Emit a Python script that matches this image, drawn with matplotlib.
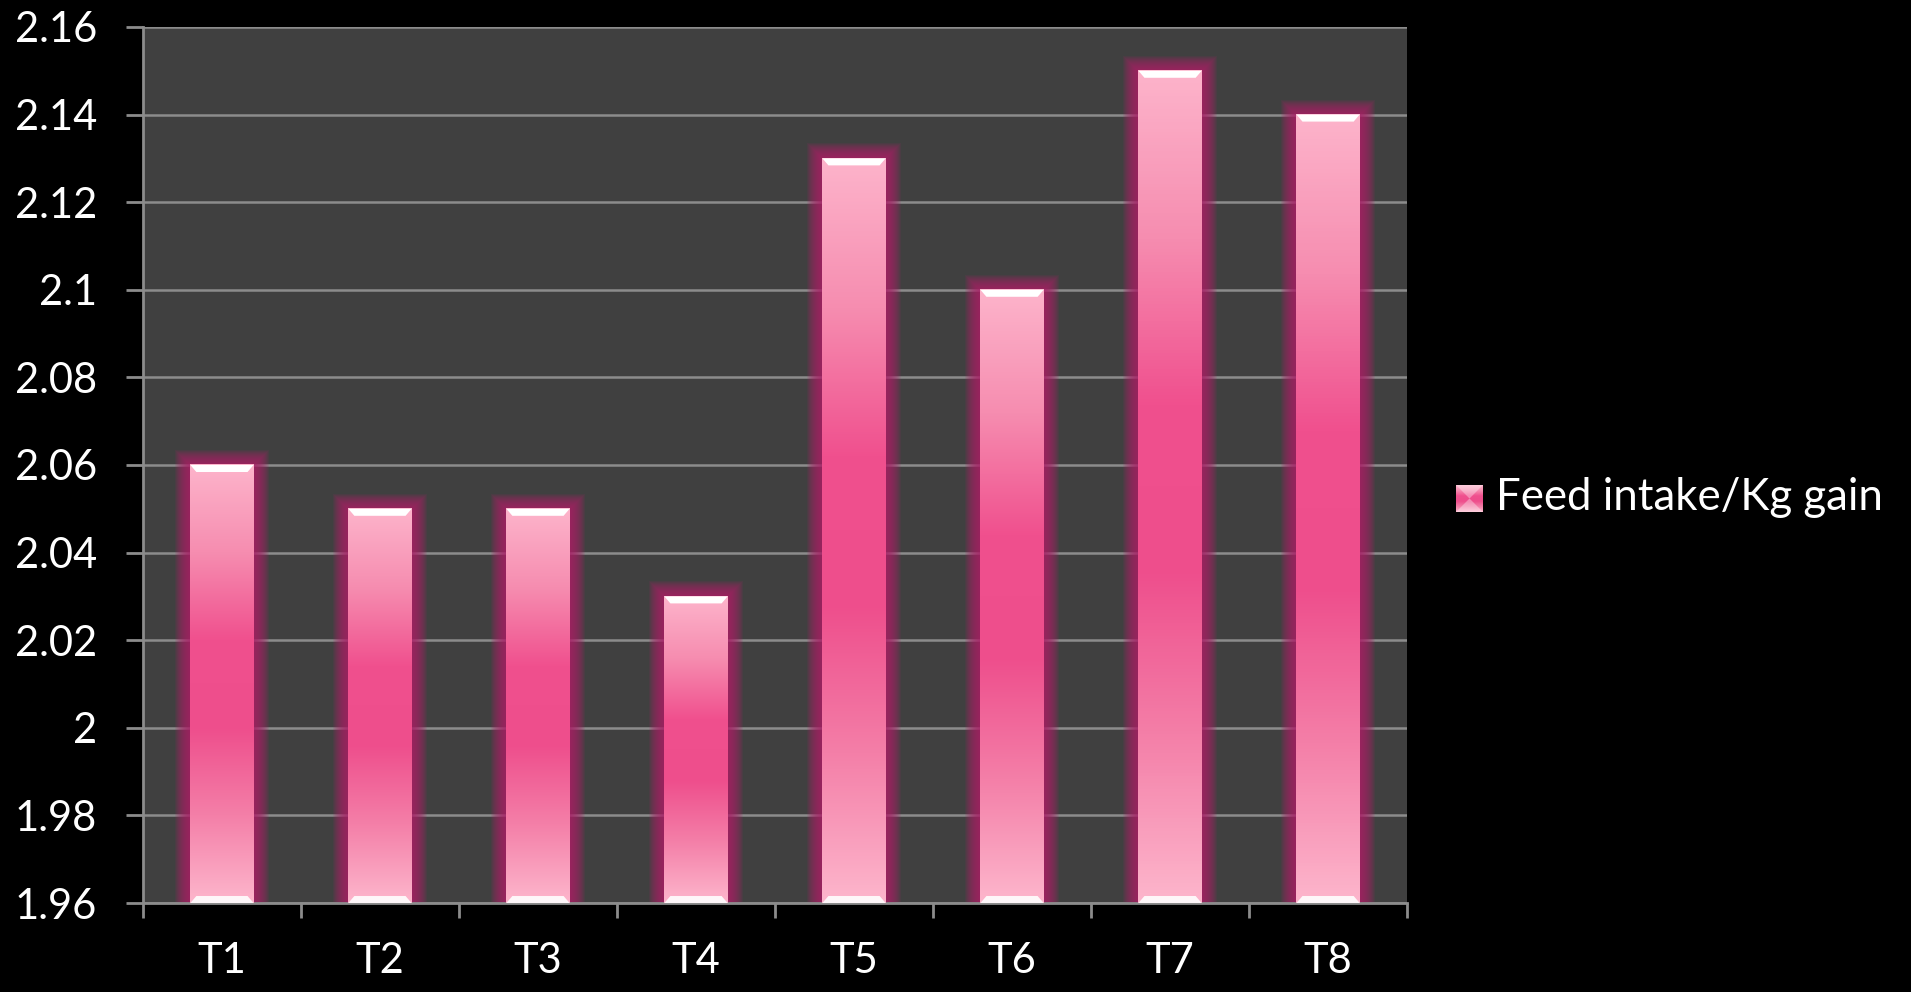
import numpy as np
import matplotlib.pyplot as plt
from matplotlib.colors import LinearSegmentedColormap
from matplotlib.patches import Rectangle, Polygon

categories = ['T1', 'T2', 'T3', 'T4', 'T5', 'T6', 'T7', 'T8']
values = [2.06, 2.05, 2.05, 2.03, 2.13, 2.10, 2.15, 2.14]
series_name = 'Feed intake/Kg gain'
y_min, y_max, y_step = 1.96, 2.16, 0.02

plt.rcParams['font.family'] = ['Lato', 'DejaVu Sans']

pink = LinearSegmentedColormap.from_list(
    'pink', ['#fdb4cb', '#f68db0', '#f0508e', '#ee4e8c', '#f47fa8', '#fdb6cc'])

fig = plt.figure(figsize=(19.11, 9.92), dpi=100, facecolor='black')
ax = fig.add_axes([0.0748, 0.0897, 0.6615, 0.8831])
ax.set_facecolor('#404040')

n = len(categories)
ax.set_xlim(0, n)
ax.set_ylim(y_min, y_max)

# pixel sizes in data units
px_x = n / (0.6615 * 1911)
px_y = (y_max - y_min) / (0.8831 * 992)

grad = np.linspace(0, 1, 256).reshape(-1, 1)
width = 0.4
for i, v in enumerate(values):
    x0 = i + 0.5 - width / 2
    # glow
    for k in range(15, 0, -1):
        ax.add_patch(Rectangle((x0 - k * px_x, y_min), width + 2 * k * px_x,
                               v - y_min + k * px_y, facecolor='#b0206a',
                               edgecolor='none', alpha=0.1, zorder=2))
    ax.imshow(grad, cmap=pink, aspect='auto', origin='upper',
              extent=(x0, x0 + width, y_min, v), zorder=3)
    # bevels top and bottom
    b = 7 * px_y
    s = 6 * px_x
    ax.add_patch(Polygon([(x0, v), (x0 + width, v), (x0 + width - s, v - b), (x0 + s, v - b)],
                         closed=True, facecolor='white', edgecolor='none', zorder=4))
    ax.add_patch(Polygon([(x0, y_min), (x0 + width, y_min), (x0 + width - s, y_min + b), (x0 + s, y_min + b)],
                         closed=True, facecolor='white', edgecolor='none', alpha=0.9, zorder=4))

ax.set_xlim(0, n)
ax.set_ylim(y_min, y_max)

yt = np.round(np.arange(y_min, y_max + 1e-9, y_step), 2)
ax.set_yticks(yt)
ax.set_yticklabels([('%g' % t) for t in yt])
ax.yaxis.grid(True, color='#8c8c8c', linewidth=1.8, zorder=1)
ax.set_axisbelow(True)

ax.set_xticks(np.arange(0, n + 1))
ax.set_xticklabels([])
ax.set_xticks(np.arange(n) + 0.5, minor=True)
ax.set_xticklabels(categories, minor=True)

ax.tick_params(axis='y', colors='#8c8c8c', labelcolor='white', labelsize=30,
               length=12, width=2, pad=21)
ax.tick_params(axis='x', which='major', colors='#8c8c8c', length=11, width=2)
ax.tick_params(axis='x', which='minor', length=0, labelcolor='white',
               labelsize=30, pad=28)

for side in ['top', 'right']:
    ax.spines[side].set_visible(False)
for side in ['left', 'bottom']:
    ax.spines[side].set_color('#8c8c8c')
    ax.spines[side].set_linewidth(2)

# legend
lax = fig.add_axes([1456 / 1911, 1 - 512 / 992, 27 / 1911, 27 / 992])
lax.imshow(grad, cmap=pink, aspect='auto', extent=(0, 1, 0, 1))
lax.add_patch(Polygon([(0, 1), (1, 1), (0.5, 0.5)], facecolor='white', alpha=0.35, edgecolor='none'))
lax.add_patch(Polygon([(0, 0), (1, 0), (0.5, 0.5)], facecolor='white', alpha=0.35, edgecolor='none'))
lax.set_xlim(0, 1)
lax.set_ylim(0, 1)
lax.axis('off')
fig.text(1496 / 1911, 1 - 497 / 992, series_name, color='white', fontsize=31.5,
         va='center', ha='left')

fig.savefig('out.png', dpi=100, facecolor='black')
